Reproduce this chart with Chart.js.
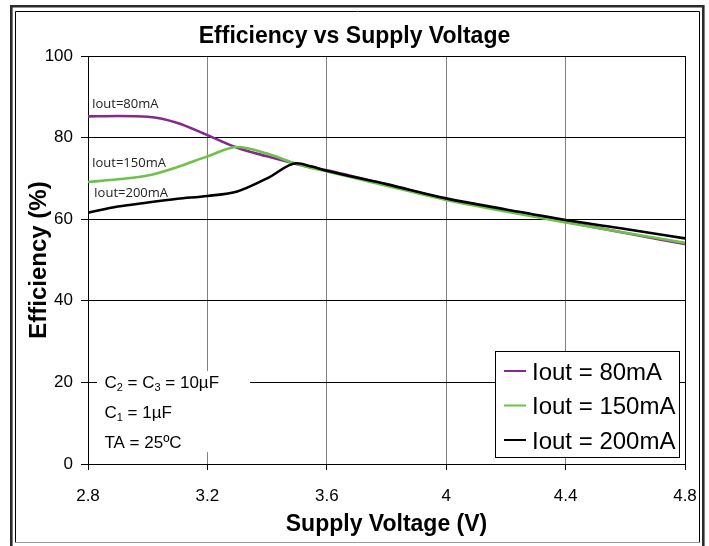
<!DOCTYPE html>
<html>
<head>
<meta charset="utf-8">
<script src="https://cdn.jsdelivr.net/npm/chart.js@4.4.1/dist/chart.umd.min.js"></script>
<style>
  html, body { margin: 0; padding: 0; background: #fff; }
</style>
</head>
<body>
<canvas id="myChart" width="709" height="546"></canvas>
<script>
// supply voltage (V)
let voltage = [2.8, 2.9, 3.0, 3.1, 3.2, 3.3, 3.4, 3.5, 3.55, 3.6, 3.8, 4.0, 4.2, 4.4, 4.6, 4.8];
// efficiency (%) for each load current
let eff80  = [85.2, 85.3, 85.1, 83.6, 80.6, 77.5, 75.4, 73.5, 72.7, 72.0, 68.5, 64.9, 62.1, 59.4, 56.6, 53.9];
let eff150 = [69.1, 69.8, 70.7, 72.8, 75.4, 77.7, 76.1, 73.5, 72.5, 71.7, 68.2, 64.7, 61.9, 59.2, 56.7, 54.2];
let eff200 = [61.6, 63.1, 64.1, 65.0, 65.7, 66.8, 70.0, 73.7, 72.9, 71.9, 68.6, 65.1, 62.4, 59.8, 57.6, 55.3];

let seriesNames = ['Iout = 80mA', 'Iout = 150mA', 'Iout = 200mA'];
let curveNames = ['Iout=80mA', 'Iout=150mA', 'Iout=200mA'];
let seriesColors = ['#87288e', '#6cc24a', '#000000'];

let xTicks = [2.8, 3.2, 3.6, 4, 4.4, 4.8];
let yTicks = [0, 20, 40, 60, 80, 100];

// test conditions, "_" marks a subscript digit
let conditions = ['C_2 = C_3 = 10µF', 'C_1 = 1µF', 'TA = 25ºC'];

// where the small text sits, in axis units
let curveLabelAt = [{x: 2.813, y: 88.2}, {x: 2.813, y: 73.8}, {x: 2.82, y: 66.4}];
let condBox = {x1: 2.83, x2: 3.343, y1: 22.8, y2: 2.9, textX: 2.855, rows: [19.85, 12.5, 5.15]};

Chart.defaults.font.family = "'Liberation Sans', Arial, sans-serif";
Chart.defaults.color = '#000';

function points(values){
    return voltage.map(function(v, i){ return {x: v, y: values[i]}; });
}

function makeSet(i, values){
    return {
        label: seriesNames[i],
        data: points(values),
        borderColor: seriesColors[i],
        backgroundColor: seriesColors[i],
        borderWidth: 2.6,
        pointRadius: 0,
        fill: false,
        cubicInterpolationMode: 'monotone',
        order: 3 - i
    };
}

function drawRich(ctx, text, x, y, size){
    let parts = text.split(/(_\d)/);
    parts.forEach(function(p){
        if(p === '') return;
        if(p[0] === '_'){
            ctx.font = Math.round(size * 0.65) + "px 'Liberation Sans', Arial";
            ctx.fillText(p[1], x, y + size * 0.28);
            x += ctx.measureText(p[1]).width;
        } else {
            ctx.font = size + "px 'Liberation Sans', Arial";
            ctx.fillText(p, x, y);
            x += ctx.measureText(p).width;
        }
    });
}

let decor = {
    id: 'decor',
    beforeDraw(chart){
        let ctx = chart.ctx;
        ctx.save();
        ctx.fillStyle = '#fff';
        ctx.fillRect(0, 0, chart.width, chart.height);
        ctx.restore();
    },
    beforeDatasetsDraw(chart){
        let ctx = chart.ctx, sx = chart.scales.x, sy = chart.scales.y;
        ctx.save();
        let l = sx.getPixelForValue(condBox.x1), r = sx.getPixelForValue(condBox.x2);
        let t = sy.getPixelForValue(condBox.y1), b = sy.getPixelForValue(condBox.y2);
        ctx.fillStyle = '#fff';
        ctx.fillRect(l, t, r - l, b - t);
        ctx.fillStyle = '#000';
        ctx.textBaseline = 'middle';
        ctx.textAlign = 'left';
        conditions.forEach(function(line, i){
            drawRich(ctx, line, sx.getPixelForValue(condBox.textX), sy.getPixelForValue(condBox.rows[i]), 17);
        });
        ctx.restore();
    },
    afterDatasetsDraw(chart){
        let ctx = chart.ctx, sx = chart.scales.x, sy = chart.scales.y;
        let area = chart.chartArea;
        ctx.save();
        // labels next to the curves
        ctx.font = "13px 'Open Sans', sans-serif";
        ctx.fillStyle = '#222';
        ctx.textBaseline = 'middle';
        curveNames.forEach(function(name, i){
            ctx.fillText(name, sx.getPixelForValue(curveLabelAt[i].x), sy.getPixelForValue(curveLabelAt[i].y));
        });
        // legend box, bottom right of the plot
        let w = 184, h = 106;
        let left = area.right - 6 - w, top = area.bottom - 7 - h;
        ctx.fillStyle = '#fff';
        ctx.fillRect(left, top, w, h);
        ctx.strokeStyle = '#000';
        ctx.lineWidth = 1;
        ctx.strokeRect(Math.round(left) + 0.5, Math.round(top) + 0.5, w, h);
        ctx.font = "24px 'Liberation Sans', Arial";
        chart.data.datasets.forEach(function(ds, i){
            let cy = top + 22 + i * 34.5;
            ctx.strokeStyle = ds.borderColor;
            ctx.lineWidth = 2;
            ctx.beginPath();
            ctx.moveTo(left + 9, cy - 2);
            ctx.lineTo(left + 31, cy - 2);
            ctx.stroke();
            ctx.fillStyle = '#000';
            ctx.fillText(ds.label, left + 37, cy);
        });
        ctx.restore();
    },
    afterDraw(chart){
        let ctx = chart.ctx;
        ctx.save();
        // double frame round the picture
        ctx.strokeStyle = '#2b2b2b';
        ctx.lineWidth = 2.6;
        ctx.beginPath();
        ctx.moveTo(11.3, 546);
        ctx.lineTo(11.3, 6.2);
        ctx.lineTo(703.3, 6.2);
        ctx.lineTo(703.3, 546);
        ctx.stroke();
        ctx.strokeStyle = '#000';
        ctx.lineWidth = 1;
        ctx.beginPath();
        ctx.moveTo(15.5, 542.5);
        ctx.lineTo(15.5, 11.5);
        ctx.lineTo(699.5, 11.5);
        ctx.lineTo(699.5, 542.5);
        ctx.stroke();
        ctx.strokeStyle = '#9a9a9a';
        ctx.beginPath();
        ctx.moveTo(15.5, 542.5);
        ctx.lineTo(699.5, 542.5);
        ctx.stroke();
        ctx.restore();
    }
};

let data = {
    datasets: [makeSet(0, eff80), makeSet(1, eff150), makeSet(2, eff200)]
};

let config = {
    type: 'line',
    data: data,
    plugins: [decor],
    options: {
        responsive: false,
        animation: false,
        devicePixelRatio: 1,
        layout: {padding: 0},
        plugins: {
            legend: {display: false},
            tooltip: {enabled: false},
            title: {
                display: true,
                text: 'Efficiency vs Supply Voltage',
                color: '#000',
                font: {size: 23, weight: 'bold'},
                padding: {top: 22.4, bottom: 6}
            }
        },
        scales: {
            x: {
                type: 'linear',
                min: 2.8,
                max: 4.8,
                afterBuildTicks: function(scale){
                    scale.ticks = xTicks.map(function(v){ return {value: v}; });
                },
                afterFit: function(scale){
                    scale.height = 82;
                    // end labels may hang over the plot edges, no extra room
                    scale.paddingLeft = 0;
                    scale.paddingRight = 0;
                },
                ticks: {
                    font: {size: 17},
                    color: '#000',
                    padding: 16,
                    maxRotation: 0,
                    callback: function(v){ return String(v); }
                },
                grid: {
                    color: function(c){
                        let v = c.tick ? c.tick.value : 0;
                        return (v === 2.8 || v === 4.8) ? '#000' : '#808080';
                    },
                    tickColor: '#000',
                    tickLength: 6,
                    lineWidth: 1
                },
                border: {display: true, color: '#000', width: 1},
                title: {
                    display: true,
                    text: 'Supply Voltage (V)',
                    color: '#000',
                    font: {size: 23, weight: 'bold'},
                    padding: {top: 0, bottom: 7.7}
                }
            },
            y: {
                min: 0,
                max: 100,
                afterBuildTicks: function(scale){
                    scale.ticks = yTicks.map(function(v){ return {value: v}; });
                },
                afterFit: function(scale){ scale.width = 88; },
                ticks: {
                    font: {size: 17},
                    color: '#000',
                    padding: 8
                },
                grid: {
                    color: '#000',
                    tickColor: '#000',
                    tickLength: 7,
                    lineWidth: 1
                },
                border: {display: true, color: '#000', width: 1},
                title: {
                    display: true,
                    text: 'Efficiency (%)',
                    color: '#000',
                    font: {size: 24, weight: 'bold'},
                    padding: {top: 25, bottom: 0}
                }
            },
            // empty strip on the right so the plot ends where the original does
            yRight: {
                position: 'right',
                display: true,
                grid: {display: false},
                border: {display: false},
                ticks: {display: false},
                afterFit: function(scale){ scale.width = 24; }
            }
        }
    }
};

let myChart = new Chart(document.getElementById('myChart'), config);
</script>
</body>
</html>
